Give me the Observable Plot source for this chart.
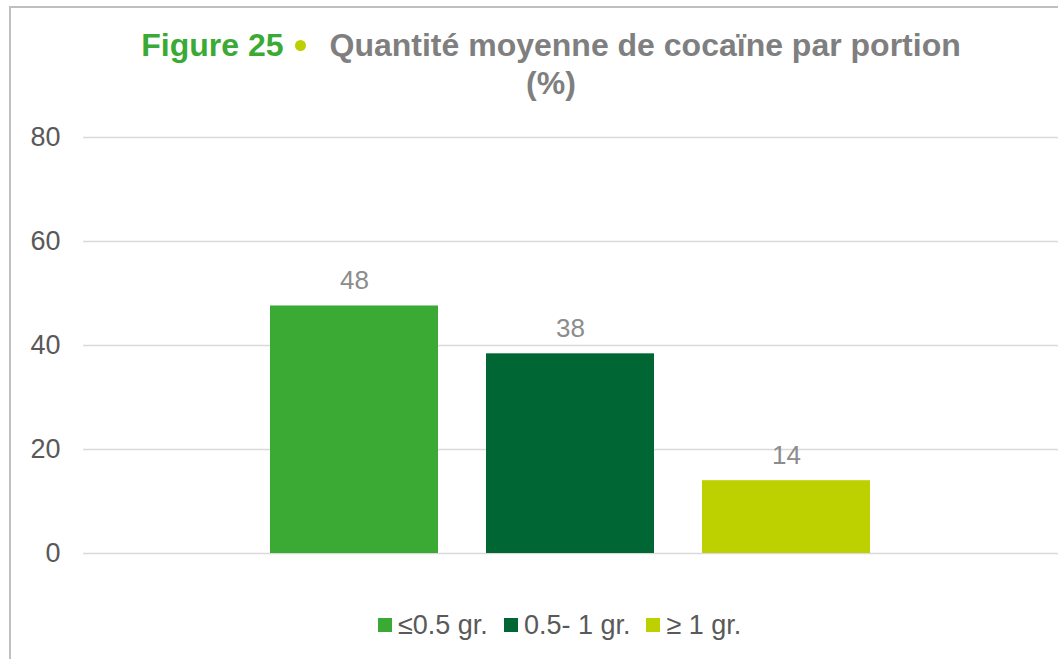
<!DOCTYPE html>
<html>
<head>
<meta charset="utf-8">
<script src="https://cdn.jsdelivr.net/npm/d3@7"></script>
<script src="https://cdn.jsdelivr.net/npm/@observablehq/plot@0.6"></script>
<style>
  html, body { margin: 0; padding: 0; background: #fff; }
  body { width: 1058px; height: 659px; overflow: hidden; position: relative; font-family: "Liberation Sans", Arial, sans-serif; }
  #frame { position: absolute; left: 9px; top: 6px; width: 1200px; height: 800px; border: 2px solid #bfbfbf; box-sizing: border-box; }
  #title { position: absolute; left: 0; top: 26px; width: 1102px; text-align: center; font-weight: bold; font-size: 32px; line-height: 38px; color: #7f7f7f; }
  #title .fig { color: #3aaa35; }
  #title .dot { display: inline-block; width: 11px; height: 11px; border-radius: 50%; background: #bdd000; vertical-align: middle; margin: 0 24px 0 11px; position: relative; top: -2px; }
  #chart { position: absolute; left: 0; top: 110px; }
  #legend { position: absolute; left: 378px; top: 610px; display: flex; align-items: center; font-size: 27px; line-height: 30px; color: #595959; }
  #legend .item { display: flex; align-items: center; margin-right: 16px; }
  #legend .sw { width: 14px; height: 14px; margin-right: 6px; }
</style>
</head>
<body>
<div id="frame"></div>
<div id="title"><span class="fig">Figure 25</span><span class="dot"></span>Quantité moyenne de cocaïne par portion<br>(%)</div>
<div id="chart"></div>
<div id="legend"></div>
<script>
const categories = ["≤0.5 gr.", "0.5- 1 gr.", "≥ 1 gr."];
const values = [47.6, 38.4, 14.0];
const colors = ["#3aaa35", "#006633", "#bdd000"];
const yTicks = [0, 20, 40, 60, 80];

const data = categories.map((c, i) => ({cat: c, value: values[i]}));
const fmt = d3.format(".0f");

const chart = Plot.plot({
  width: 1058,
  height: 480,
  marginTop: 27,
  marginBottom: 37,
  marginLeft: 83,
  marginRight: 0,
  style: {fontFamily: "'Liberation Sans', Arial, sans-serif", background: "transparent"},
  x: {domain: categories, range: [270, 870], paddingInner: 48 / 216, paddingOuter: 0, axis: null},
  y: {domain: [0, 80], axis: null},
  color: {domain: categories, range: colors},
  marks: [
    Plot.ruleY(yTicks, {stroke: "#d9d9d9", strokeWidth: 1.5}),
    Plot.axisY({ticks: yTicks, tickSize: 0, tickPadding: 23, fontSize: 27, color: "#595959", label: null}),
    Plot.barY(data, {x: "cat", y: "value", fill: "cat"}),
    Plot.text(data, {x: "cat", y: "value", text: d => fmt(d.value), lineAnchor: "bottom", dy: -17, fontSize: 26, fill: "#8c8c8c"})
  ]
});
document.getElementById("chart").appendChild(chart);

const legend = document.getElementById("legend");
categories.forEach((c, i) => {
  const item = document.createElement("div");
  item.className = "item";
  const sw = document.createElement("span");
  sw.className = "sw";
  sw.style.background = colors[i];
  const t = document.createElement("span");
  t.textContent = c;
  item.appendChild(sw);
  item.appendChild(t);
  legend.appendChild(item);
});
</script>
</body>
</html>
